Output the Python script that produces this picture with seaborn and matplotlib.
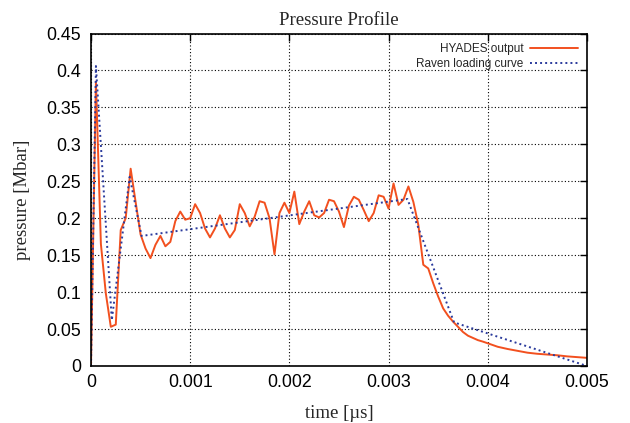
import numpy as np
import pandas as pd
import matplotlib
matplotlib.use("Agg")
import matplotlib.pyplot as plt
import seaborn as sns

# HYADES simulated pressure history
hyades_time = [0, 0.00005, 0.0001, 0.00015, 0.0002, 0.00025, 0.0003, 0.00035, 0.0004, 0.00045,
               0.0005, 0.00055, 0.0006, 0.00065, 0.0007, 0.00075, 0.0008, 0.00085, 0.0009, 0.00095,
               0.001, 0.00105, 0.0011, 0.00115, 0.0012, 0.00125, 0.0013, 0.00135, 0.0014, 0.00145,
               0.0015, 0.00155, 0.0016, 0.00165, 0.0017, 0.00175, 0.0018, 0.00185, 0.0019, 0.00195,
               0.002, 0.00205, 0.0021, 0.00215, 0.0022, 0.00225, 0.0023, 0.00235, 0.0024, 0.00245,
               0.0025, 0.00255, 0.0026, 0.00265, 0.0027, 0.00275, 0.0028, 0.00285, 0.0029, 0.00295,
               0.003, 0.00305, 0.0031, 0.00315, 0.0032, 0.00325, 0.0033, 0.00335, 0.0034, 0.00345,
               0.0035, 0.00355, 0.0036, 0.00365, 0.0037, 0.00375, 0.0038, 0.00385, 0.0039, 0.00395,
               0.004, 0.0041, 0.0042, 0.0043, 0.0044, 0.0045, 0.0046, 0.0047, 0.0048, 0.0049, 0.005]
hyades_pressure = [0.0, 0.385, 0.165, 0.098, 0.053, 0.056, 0.184, 0.200, 0.267, 0.222,
                   0.178, 0.159, 0.146, 0.164, 0.176, 0.162, 0.168, 0.196, 0.209, 0.198,
                   0.200, 0.219, 0.207, 0.186, 0.174, 0.186, 0.204, 0.186, 0.174, 0.184,
                   0.219, 0.207, 0.189, 0.202, 0.223, 0.221, 0.200, 0.151, 0.207, 0.221,
                   0.207, 0.236, 0.192, 0.209, 0.223, 0.204, 0.201, 0.207, 0.225, 0.223,
                   0.209, 0.188, 0.217, 0.229, 0.225, 0.211, 0.196, 0.207, 0.231, 0.229,
                   0.213, 0.247, 0.218, 0.225, 0.243, 0.222, 0.191, 0.137, 0.132, 0.112,
                   0.094, 0.078, 0.068, 0.060, 0.053, 0.046, 0.041, 0.038, 0.035, 0.033,
                   0.0307, 0.026, 0.023, 0.0205, 0.018, 0.0165, 0.0155, 0.0145, 0.013, 0.012, 0.011]

# Piecewise-linear Raven loading curve
raven_time = [0, 0.00005, 0.00021, 0.00039, 0.00051, 0.00319, 0.00366, 0.005]
raven_pressure = [0.0, 0.406, 0.062, 0.256, 0.176, 0.226, 0.059, 0.0]

x_ticks = [0, 0.001, 0.002, 0.003, 0.004, 0.005]
x_tick_labels = ["0", "0.001", "0.002", "0.003", "0.004", "0.005"]
y_ticks = [0, 0.05, 0.1, 0.15, 0.2, 0.25, 0.3, 0.35, 0.4, 0.45]
y_tick_labels = ["0", "0.05", "0.1", "0.15", "0.2", "0.25", "0.3", "0.35", "0.4", "0.45"]

hyades = pd.DataFrame({"time": hyades_time, "pressure": hyades_pressure})
raven = pd.DataFrame({"time": raven_time, "pressure": raven_pressure})

sns.set_style("white")
plt.rcParams["font.family"] = ["Liberation Sans", "DejaVu Sans"]

fig = plt.figure(figsize=(6.3, 4.23), dpi=100)
ax = fig.add_axes([0.1444, 0.1348, 0.7873, 0.786])

sns.lineplot(data=hyades, x="time", y="pressure", ax=ax, sort=False, estimator=None,
             color="#f2501f", linewidth=1.4, label="HYADES output")
sns.lineplot(data=raven, x="time", y="pressure", ax=ax, sort=False, estimator=None,
             color="#2a3a9c", linewidth=1.4, linestyle=(0, (1, 1.6)),
             label="Raven loading curve")

ax.set_xlim(0, 0.005)
ax.set_ylim(0, 0.45)
ax.set_xticks(x_ticks)
ax.set_xticklabels(x_tick_labels)
ax.set_yticks(y_ticks)
ax.set_yticklabels(y_tick_labels)
ax.tick_params(direction="in", top=True, right=True, length=5, width=1,
               labelsize=12.8, colors="black")
ax.tick_params(axis="x", pad=6)
ax.tick_params(axis="y", pad=7)

ax.grid(True, linestyle=(0, (1, 2)), color="black", linewidth=0.8)
for spine in ax.spines.values():
    spine.set_color("black")
    spine.set_linewidth(1.2)

serif = ["Liberation Serif", "DejaVu Serif"]
ax.set_title("Pressure Profile", family=serif, fontsize=13.5, pad=6)
ax.set_xlabel("time [\u00b5s]", family=serif, fontsize=13.5, labelpad=10)
ax.set_ylabel("pressure [Mbar]", family=serif, fontsize=13.5, labelpad=11)

leg = ax.legend(loc="upper right", frameon=False, markerfirst=False, fontsize=8.5,
                handlelength=4.0, handletextpad=0.6, labelspacing=0.25,
                borderaxespad=0.4)

fig.savefig("out.png", dpi=100)
